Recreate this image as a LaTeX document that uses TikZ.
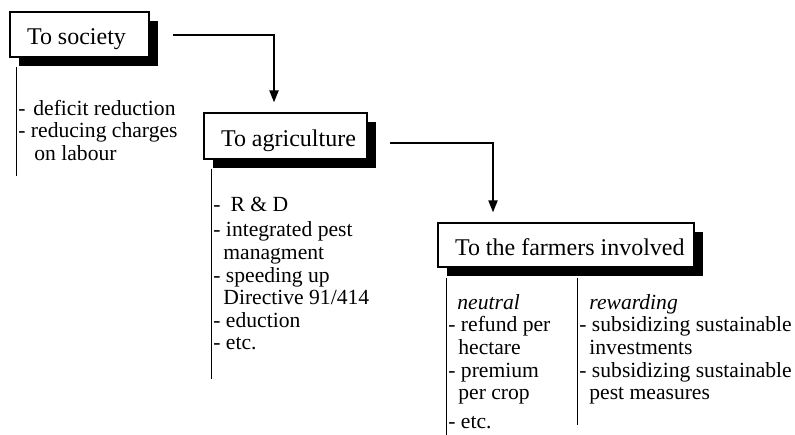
\documentclass[tikz,border=0pt]{standalone}
\usepackage{fontspec}
\setmainfont{Liberation Serif}
\usetikzlibrary{arrows.meta,shadows}

\begin{document}
\begin{tikzpicture}[x=0.5pt,y=-0.5pt]
\tikzstyle{every node}+=[inner sep=0pt]
\tikzstyle{head}=[draw=black,line width=0.6pt,fill=white,inner xsep=8.5pt,text height=10pt,text depth=0pt,font=\fontsize{12}{14}\selectfont,drop shadow={opacity=1,fill=black,shadow xshift=4.5pt,shadow yshift=-4.5pt}]
\tikzstyle{items}=[anchor=north west,align=left,font=\fontsize{10.8}{11.3}\selectfont]
\tikzstyle{rule}=[line width=0.6pt]
\tikzstyle{arr}=[line width=1pt,-{Triangle[length=6pt,width=4.5pt]}]
\useasboundingbox (0,0) rectangle (795,434);
\node[head,minimum width=69.5pt,minimum height=22.5pt] (soc) at (79.5,34.5) {\makebox[52.5pt][l]{To society}};
\node[head,minimum width=81.5pt,minimum height=23pt] (agr) at (285.5,136) {\makebox[64.5pt][l]{To agriculture}};
\node[head,minimum width=128pt,minimum height=22pt] (farm) at (566,245) {\makebox[111pt][l]{To the farmers involved}};
\draw[arr] ([xshift=11.5pt]soc.east) -| ([xshift=-5.75pt,yshift=5pt]agr.north);
\draw[arr] ([xshift=11pt,yshift=-3.5pt]agr.east) -| ([xshift=-36.5pt,yshift=5pt]farm.north);
\draw[rule] ([xshift=3.5pt,yshift=-4.5pt]soc.south west) -- ++(0,109);
\draw[rule] ([xshift=4pt,yshift=-4.5pt]agr.south west) -- ++(0,210);
\draw[rule] ([xshift=4.5pt,yshift=-5pt]farm.south west) -- ++(0,157);
\draw[rule] ([xshift=70pt,yshift=-5pt]farm.south west) -- ++(0,147);
\node[items] (socitems) at (18,99) {\strut -\hspace{3.9pt}deficit reduction\\- reducing charges\\\hspace*{8pt}on labour};
\node[items] (agritems) at (213,195) {\strut -\hspace{5pt}R \& D\\[1.5pt]- integrated pest\\\hspace*{5pt}managment\\- speeding up\\\hspace*{5pt}Directive 91/414\\- eduction\\- etc.};
\node[items] (neutral) at (448,293) {\strut\hspace*{4.5pt}\textit{neutral}\\- refund per\\\hspace*{5pt}hectare\\- premium\\\hspace*{5pt}per crop\\[3pt]- etc.};
\node[items] (rewarding) at (579,293) {\strut\hspace*{5pt}\textit{rewarding}\\- subsidizing sustainable\\\hspace*{5pt}investments\\- subsidizing sustainable\\\hspace*{5pt}pest measures};
\end{tikzpicture}
\end{document}
